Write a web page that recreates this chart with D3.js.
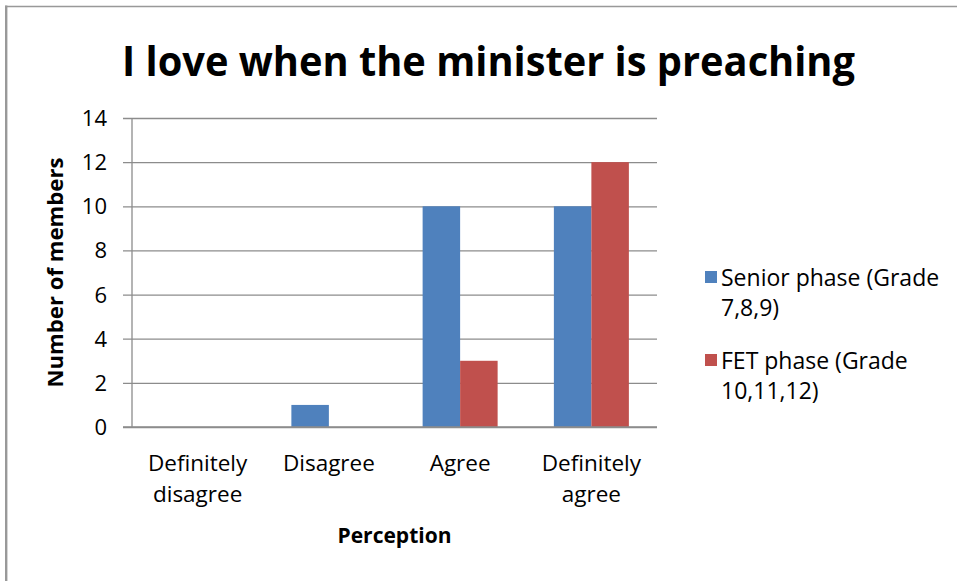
<!DOCTYPE html>
<html>
<head>
<meta charset="utf-8">
<script src="https://cdn.jsdelivr.net/npm/d3@7"></script>
<style>
  html, body { margin: 0; padding: 0; background: #fff; }
  svg { display: block; }
  text { font-family: "Open Sans", "Noto Sans", sans-serif; fill: #000; }
</style>
</head>
<body>
<svg id="chart" width="957" height="581"></svg>
<script>
const title = "I love when the minister is preaching";
const categories = [["Definitely", "disagree"], ["Disagree"], ["Agree"], ["Definitely", "agree"]];
const seriesNames = [["Senior phase (Grade", "7,8,9)"], ["FET phase (Grade", "10,11,12)"]];
const seniorValues = [0, 1, 10, 10];
const fetValues = [0, 0, 3, 12];
const yTicks = [0, 2, 4, 6, 8, 10, 12, 14];
const colors = ["#4F81BD", "#C0504D"];
const xTitle = "Perception";
const yTitle = "Number of members";

const series = [seniorValues, fetValues];
const svg = d3.select("#chart");

// frame border (left and top only visible)
svg.append("line").attr("x1", 6.2).attr("x2", 6.2).attr("y1", 5.5).attr("y2", 581)
  .attr("stroke", "#999").attr("stroke-width", 2.4);
svg.append("line").attr("x1", 5).attr("x2", 957).attr("y1", 6.5).attr("y2", 6.5)
  .attr("stroke", "#999").attr("stroke-width", 1.6);

const plot = { left: 132, right: 657, top: 118, bottom: 427 };

const y = d3.scaleLinear().domain([0, 14]).range([plot.bottom, plot.top]);
const catIdx = d3.range(categories.length);
const x0 = d3.scaleBand().domain(catIdx).range([plot.left, plot.right]).padding(0);
const bw = x0.bandwidth();
const barW = bw / 3.5;
const x1 = d3.scaleBand().domain(d3.range(series.length))
  .range([barW * 0.75, bw - barW * 0.75]).padding(0);

// gridlines via axis
const gGrid = svg.append("g").attr("transform", `translate(${plot.right},0)`);
gGrid.call(d3.axisLeft(y).tickValues(yTicks).tickSize(plot.right - plot.left + 9).tickFormat(""));
gGrid.select(".domain").remove();
gGrid.selectAll(".tick line").attr("stroke", "#8c8c8c").attr("stroke-width", 1.3);

// y axis line
svg.append("line").attr("x1", plot.left).attr("x2", plot.left)
  .attr("y1", plot.top).attr("y2", plot.bottom).attr("stroke", "#8c8c8c").attr("stroke-width", 1.3);

// y tick labels
svg.append("g").selectAll("text").data(yTicks).join("text")
  .attr("x", 107).attr("y", d => y(d) + 8)
  .attr("text-anchor", "end").attr("font-size", 22).attr("fill", "#1a1a1a")
  .text(d => d);

// bars
series.forEach((vals, si) => {
  svg.append("g").selectAll("rect").data(vals).join("rect")
    .attr("x", (d, i) => x0(i) + x1(si))
    .attr("width", x1.bandwidth())
    .attr("y", d => y(d))
    .attr("height", d => plot.bottom - y(d))
    .attr("fill", colors[si]);
});

// x axis line
svg.append("line").attr("x1", plot.left - 9).attr("x2", plot.right)
  .attr("y1", plot.bottom).attr("y2", plot.bottom).attr("stroke", "#8c8c8c").attr("stroke-width", 1.3);

// category labels
const catG = svg.append("g");
categories.forEach((lines, i) => {
  const t = catG.append("text").attr("text-anchor", "middle").attr("font-size", 22.5).attr("fill", "#1a1a1a");
  lines.forEach((ln, k) => {
    t.append("tspan").attr("x", x0(i) + bw / 2).attr("y", 471 + k * 31).text(ln);
  });
});

// axis titles
svg.append("text").attr("x", (plot.left + plot.right) / 2).attr("y", 543)
  .attr("text-anchor", "middle").attr("font-size", 21).attr("font-weight", "bold").text(xTitle);
svg.append("text").attr("transform", `translate(63,${(plot.top + plot.bottom) / 2}) rotate(-90)`)
  .attr("text-anchor", "middle").attr("font-size", 21.5).attr("font-weight", "bold")
  .attr("textLength", 230).attr("lengthAdjust", "spacingAndGlyphs").text(yTitle);

// title
svg.append("text").attr("x", 488.5).attr("y", 76)
  .attr("text-anchor", "middle").attr("font-size", 42).attr("font-weight", "bold")
  .attr("textLength", 733).attr("lengthAdjust", "spacingAndGlyphs").text(title);

// legend
const legTop = [271, 354];
seriesNames.forEach((lines, si) => {
  svg.append("rect").attr("x", 705).attr("y", legTop[si]).attr("width", 12).attr("height", 12).attr("fill", colors[si]);
  const t = svg.append("text").attr("font-size", 23).attr("fill", "#1a1a1a");
  lines.forEach((ln, k) => {
    t.append("tspan").attr("x", 721).attr("y", legTop[si] + 15 + k * 30).text(ln);
  });
});
</script>
</body>
</html>
